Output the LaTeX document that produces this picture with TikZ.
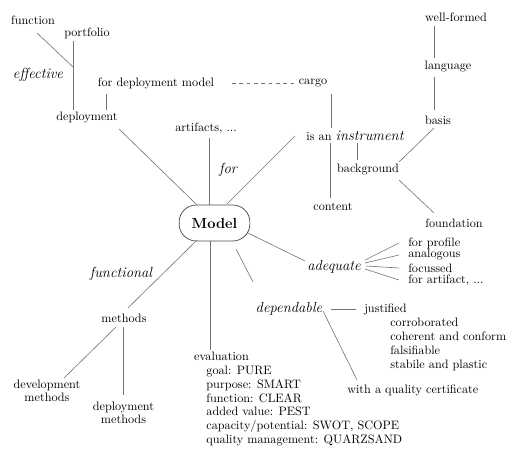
\documentclass[tikz,border=0pt]{standalone}
\usetikzlibrary{calc}
\begin{document}
\begin{tikzpicture}[x=0.82pt,y=-0.82pt,
  lbl/.style={inner sep=0pt},
  key/.style={inner sep=0pt,font=\large\itshape},
  list/.style={inner sep=0pt,align=left,font=\fontsize{10}{11.3}\selectfont},
  pair/.style={inner sep=0pt,align=center,font=\fontsize{10}{10.5}\selectfont},
  link/.style={draw=black!55,line width=0.5pt},
  hub/.style={draw=black!70,line width=0.6pt,rounded corners=14pt,
    minimum width=58pt,minimum height=29.5pt,inner sep=0pt,font=\large\bfseries}]
\useasboundingbox (0,0) rectangle (506,450);

% central node
\node[hub] (model) at (214.5,223) {Model};

% upper left: effective deployment
\node[lbl] (function) at (33,20) {function};
\node[lbl] (portfolio) at (87,33) {portfolio};
\node[key] (effective) at (38,75) {effective};
\node[lbl] (fdm) at (156,83) {for deployment model};
\node[lbl] (deploy) at (87,118) {deployment};
\node[lbl] (artifacts) at (206,128) {artifacts, ...};
\node[key] (for) at (228,170) {for};

% upper right: instrument
\node[lbl] (cargo) at (313,83) {cargo};
\node[lbl] (instr) at (355,136) {is an {\large\itshape instrument}};
\node[lbl] (content) at (333,207) {content};
\node[lbl] (background) at (368,170) {background};
\node[lbl] (wellformed) at (456,17) {well-formed};
\node[lbl] (language) at (448,67) {language};
\node[lbl] (basis) at (438,120) {basis};
\node[lbl] (foundation) at (454,223) {foundation};

% right: adequate
\node[key] (adequate) at (334,267) {adequate};
\node[lbl,anchor=west] (profile) at (408,243) {for profile};
\node[lbl,anchor=west] (analogous) at (408,255) {analogous};
\node[lbl,anchor=west] (focussed) at (408,268) {focussed};
\node[lbl,anchor=west] (forartifact) at (408,280) {for artifact, ...};

% lower right: dependable
\node[key] (depend) at (289,309) {dependable};
\node[lbl,anchor=west] (justified) at (364,309) {justified};
\node[list,anchor=north west] (justsub) at (390,318)
  {corroborated\\coherent and conform\\falsifiable\\stabile and plastic};
\node[lbl,anchor=west] (certificate) at (347,390) {with a quality certificate};

% lower left: functional methods
\node[key] (functional) at (121,274) {functional};
\node[lbl] (methods) at (124,318) {methods};
\node[pair] (devmeth) at (47,391) {development\\methods};
\node[pair] (depmeth) at (123.5,413) {deployment\\methods};

% bottom: evaluation
\node[list,anchor=north west] (eval) at (194,352)
  {evaluation\\
   \hspace*{1em}goal: PURE\\
   \hspace*{1em}purpose: SMART\\
   \hspace*{1em}function: CLEAR\\
   \hspace*{1em}added value: PEST\\
   \hspace*{1em}capacity/potential: SWOT, SCOPE\\
   \hspace*{1em}quality management: QUARZSAND};

% connectors
\coordinate (fj) at ($(portfolio)+(-14,34)$);
\draw[link] ($(function)+(4,13)$) -- (fj);
\draw[link] ($(portfolio)+(-14,8)$) -- ($(deploy)+(-14,-8)$);
\draw[link] ($(fdm)+(-50,11)$) -- ($(deploy)+(19,-8)$);
\draw[link,dash pattern=on 3pt off 3pt] ($(fdm)+(76,0)$) -- ($(cargo)+(-16,0)$);
\draw[link] ($(deploy)+(32,11)$) -- ($(model)+(-17.5,-18)$);
\draw[link] ($(artifacts)+(3,10)$) -- ($(model)+(-5.5,-18)$);

\draw[link] ($(cargo)+(18,11)$) -- ($(instr)+(-24,-8)$);
\draw[link] ($(instr)+(-25,7)$) -- ($(content)+(-3,-9)$);
\draw[link] ($(instr)+(2,7)$) -- ($(background)+(-11,-10)$);
\draw[link] ($(instr)+(-60,0)$) -- ($(model)+(12.5,-19)$);
\draw[link] ($(background)+(31,-8)$) -- ($(basis)+(-4,8)$);
\draw[link] ($(background)+(31,10)$) -- ($(foundation)+(-20,-10)$);
\draw[link] ($(basis)+(-4,-10)$) -- ($(language)+(-14,10)$);
\draw[link] ($(language)+(-14,-9)$) -- ($(wellformed)+(-22,9)$);

\draw[link] ($(model)+(33.5,10)$) -- ($(adequate)+(-29,-6)$);
\draw[link] ($(adequate)+(31,-7)$) -- ($(profile.west)+(-9,0)$);
\draw[link] ($(adequate)+(31,-4)$) -- ($(analogous.west)+(-9,0)$);
\draw[link] ($(adequate)+(32,-1)$) -- ($(focussed.west)+(-9,0)$);
\draw[link] ($(adequate)+(31,2)$) -- ($(forartifact.west)+(-9,0)$);

\draw[link] ($(model)+(21.5,26)$) -- ($(depend)+(-36,-27)$);
\draw[link] ($(depend)+(42,0)$) -- ($(justified.west)+(-8,0)$);
\draw[link] ($(depend)+(34,2)$) -- ($(certificate.west)+(10,-10)$);

\draw[link] ($(model)+(-17.5,17)$) -- ($(methods)+(4,-10)$);
\draw[link] ($(methods)+(-8,9)$) -- ($(devmeth)+(17,-13)$);
\draw[link] ($(methods)+(-1,9)$) -- ($(depmeth)+(-0.5,-18)$);
\draw[link] ($(model)+(-4.5,18)$) -- ($(eval.north west)+(16,-2)$);
\end{tikzpicture}
\end{document}
